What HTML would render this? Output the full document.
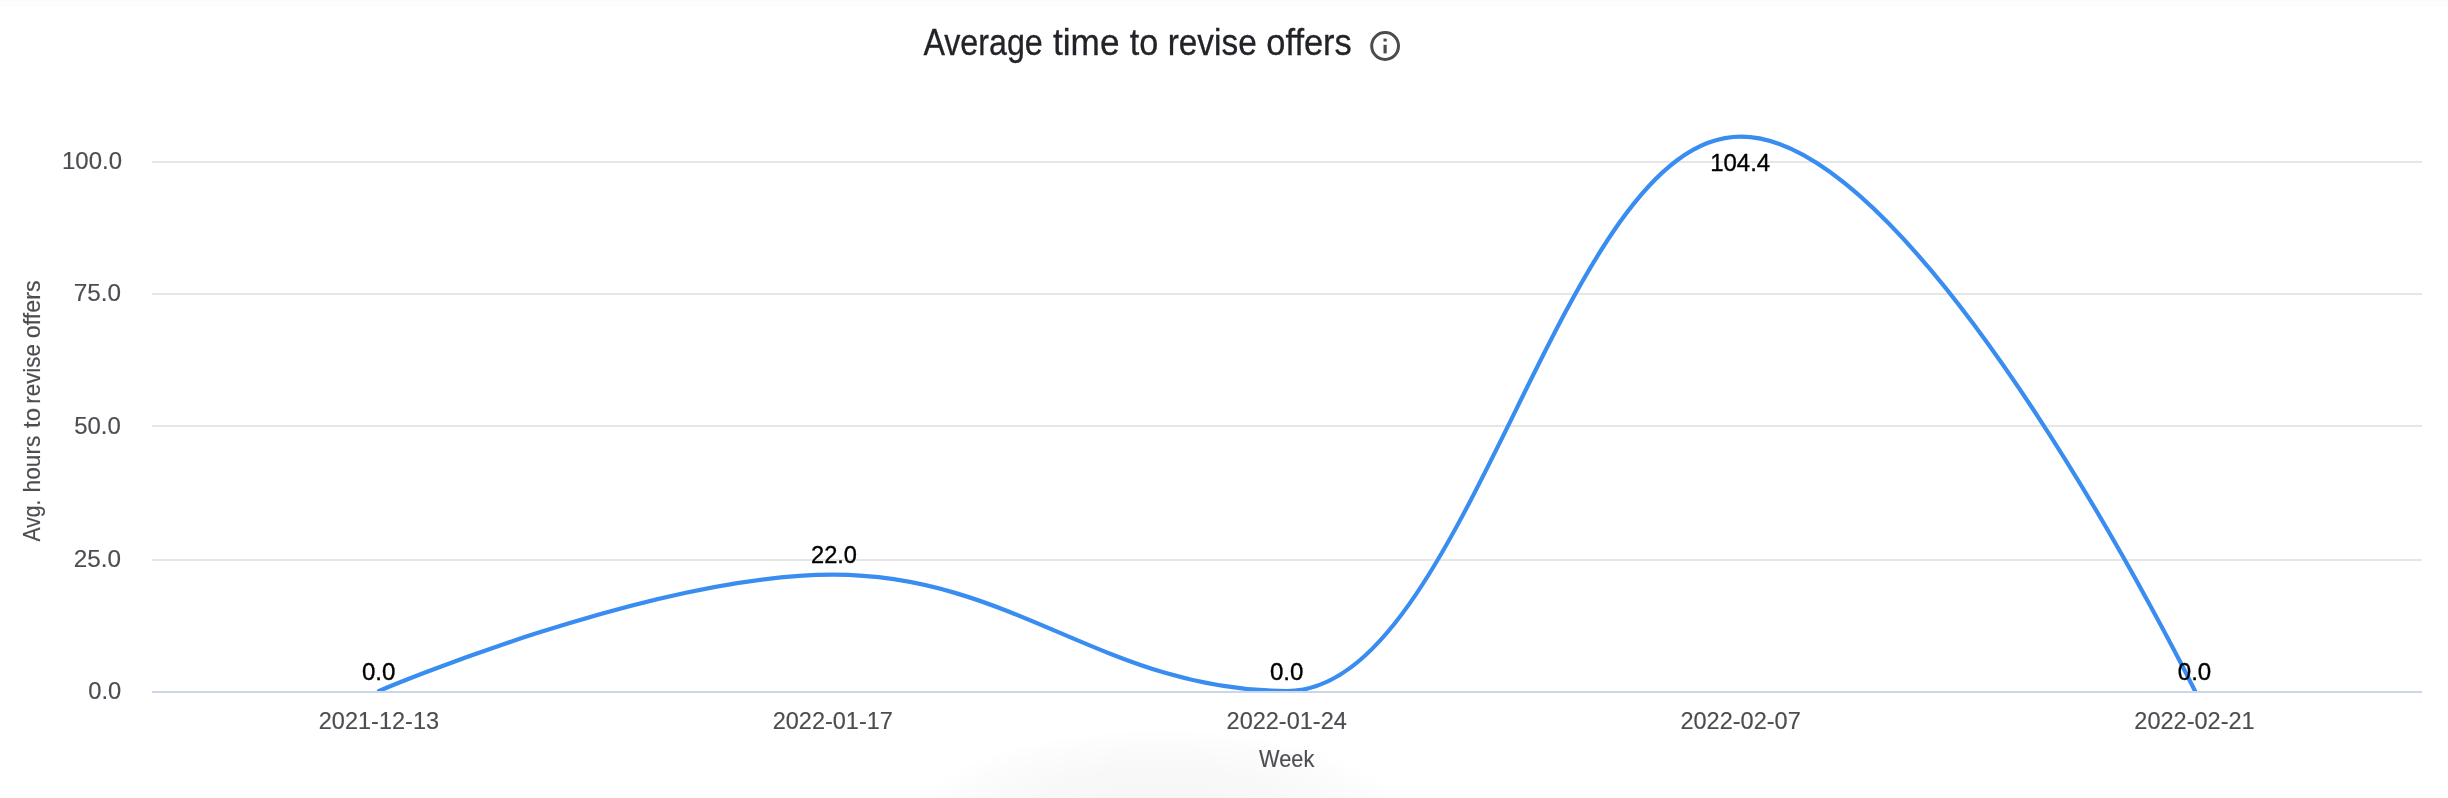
<!DOCTYPE html>
<html>
<head>
<meta charset="utf-8">
<title>Average time to revise offers</title>
<style>
html,body{margin:0;padding:0;background:#fff;}
body{width:2448px;height:798px;overflow:hidden;position:relative;font-family:"Liberation Sans",sans-serif;}
svg{will-change:transform;position:absolute;left:0;top:0;display:block;}
text{font-family:"Liberation Sans",sans-serif;}
.ax{fill:#4b4d52;font-size:23.7px;stroke:#4b4d52;stroke-width:0.15px;}
.dl{fill:#000;font-size:24px;stroke:#000;stroke-width:0.35px;}
.title{fill:#212328;font-size:36px;stroke:#212328;stroke-width:0.3px;}
</style>
</head>
<body>
<svg width="2448" height="798" viewBox="0 0 2448 798">
  <defs>
    <radialGradient id="glow" cx="0.5" cy="0.5" r="0.5">
      <stop offset="0" stop-color="#000" stop-opacity="0.035"/>
      <stop offset="0.55" stop-color="#000" stop-opacity="0.028"/>
      <stop offset="0.85" stop-color="#000" stop-opacity="0.012"/>
      <stop offset="1" stop-color="#000" stop-opacity="0"/>
    </radialGradient>
    <clipPath id="plot"><rect x="152" y="100" width="2270" height="591"/></clipPath>
  </defs>
  <rect x="0" y="0" width="2448" height="798" fill="#fff"/>
  <!-- faint shadow glow at bottom -->
  <ellipse cx="1160" cy="822" rx="250" ry="94" fill="url(#glow)"/>
  <!-- top hairline -->
  <rect x="0" y="0" width="2448" height="7" fill="#fdfdfd"/><rect x="0" y="0" width="2448" height="1" fill="#fcfcfc"/>

  <!-- title -->
  <g class="title">
    <text x="923.4" y="55" textLength="119.3" lengthAdjust="spacingAndGlyphs">Average</text>
    <text x="1053" y="55" textLength="66.5" lengthAdjust="spacingAndGlyphs">time</text>
    <text x="1129.8" y="55" textLength="28.5" lengthAdjust="spacingAndGlyphs">to</text>
    <text x="1167.7" y="55" textLength="89" lengthAdjust="spacingAndGlyphs">revise</text>
    <text x="1266.3" y="55" textLength="85.5" lengthAdjust="spacingAndGlyphs">offers</text>
  </g>
  <!-- info icon -->
  <circle cx="1385.1" cy="46" r="13.4" fill="none" stroke="#4a4b4e" stroke-width="3"/>
  <rect x="1383.5" y="38.6" width="3.2" height="2.9" fill="#4a4b4e"/>
  <rect x="1383.5" y="44.8" width="3.2" height="8.6" fill="#4a4b4e"/>

  <!-- gridlines -->
  <g fill="#e6e6e6">
    <rect x="152" y="161" width="2270" height="2"/>
    <rect x="152" y="293" width="2270" height="2"/>
    <rect x="152" y="425" width="2270" height="2"/>
    <rect x="152" y="559" width="2270" height="2"/>
  </g>
  <!-- x axis line -->
  <rect x="152" y="691" width="2270" height="2" fill="#ccd6eb"/>

  <!-- y labels -->
  <g class="ax" text-anchor="end">
    <text x="122" y="169" textLength="60" lengthAdjust="spacingAndGlyphs">100.0</text>
    <text x="121" y="301.3" textLength="47.3" lengthAdjust="spacingAndGlyphs">75.0</text>
    <text x="120.8" y="433.5" textLength="46.6" lengthAdjust="spacingAndGlyphs">50.0</text>
    <text x="121" y="567" textLength="47.3" lengthAdjust="spacingAndGlyphs">25.0</text>
    <text x="121.2" y="699" textLength="33" lengthAdjust="spacingAndGlyphs">0.0</text>
  </g>
  <!-- y title -->
  <g class="ax">
    <text transform="translate(40.1 541.5) rotate(-90)" textLength="42" lengthAdjust="spacingAndGlyphs">Avg.</text>
    <text transform="translate(40.1 492.5) rotate(-90)" textLength="57" lengthAdjust="spacingAndGlyphs">hours</text>
    <text transform="translate(40.1 428) rotate(-90)" textLength="20" lengthAdjust="spacingAndGlyphs">to</text>
    <text transform="translate(40.1 403.7) rotate(-90)" textLength="59.5" lengthAdjust="spacingAndGlyphs">revise</text>
    <text transform="translate(40.1 338.3) rotate(-90)" textLength="58" lengthAdjust="spacingAndGlyphs">offers</text>
  </g>

  <!-- series -->
  <g clip-path="url(#plot)">
    <path d="M 379.00 691.00 C 379.00 691.00 651.40 574.70 833.00 574.70 C 1014.60 574.70 1105.40 691.00 1287.00 691.00 C 1468.60 691.00 1559.40 136.70 1741.00 136.70 C 1922.60 136.70 2195.00 691.00 2195.00 691.00" fill="none" stroke="#3a8df0" stroke-width="4.2" stroke-linejoin="round" stroke-linecap="round"/>
  </g>

  <!-- data labels -->
  <g class="dl" text-anchor="middle">
    <text x="378.7" y="679.5" textLength="33.5" lengthAdjust="spacingAndGlyphs">0.0</text>
    <text x="834" y="563.2" textLength="46" lengthAdjust="spacingAndGlyphs">22.0</text>
    <text x="1286.7" y="679.5" textLength="33.5" lengthAdjust="spacingAndGlyphs">0.0</text>
    <text x="1740.2" y="171.4" textLength="60" lengthAdjust="spacingAndGlyphs">104.4</text>
    <text x="2194.5" y="679.5" textLength="33.5" lengthAdjust="spacingAndGlyphs">0.0</text>
  </g>

  <!-- x labels -->
  <g class="ax" text-anchor="middle">
    <text x="378.9" y="729.1" textLength="120.3" lengthAdjust="spacingAndGlyphs">2021-12-13</text>
    <text x="832.8" y="729.1" textLength="120.3" lengthAdjust="spacingAndGlyphs">2022-01-17</text>
    <text x="1286.7" y="729.1" textLength="120.3" lengthAdjust="spacingAndGlyphs">2022-01-24</text>
    <text x="1740.6" y="729.1" textLength="120.3" lengthAdjust="spacingAndGlyphs">2022-02-07</text>
    <text x="2194.5" y="729.1" textLength="120.3" lengthAdjust="spacingAndGlyphs">2022-02-21</text>
    <text x="1286.7" y="766.9" textLength="55.2" lengthAdjust="spacingAndGlyphs">Week</text>
  </g>
</svg>
</body>
</html>
